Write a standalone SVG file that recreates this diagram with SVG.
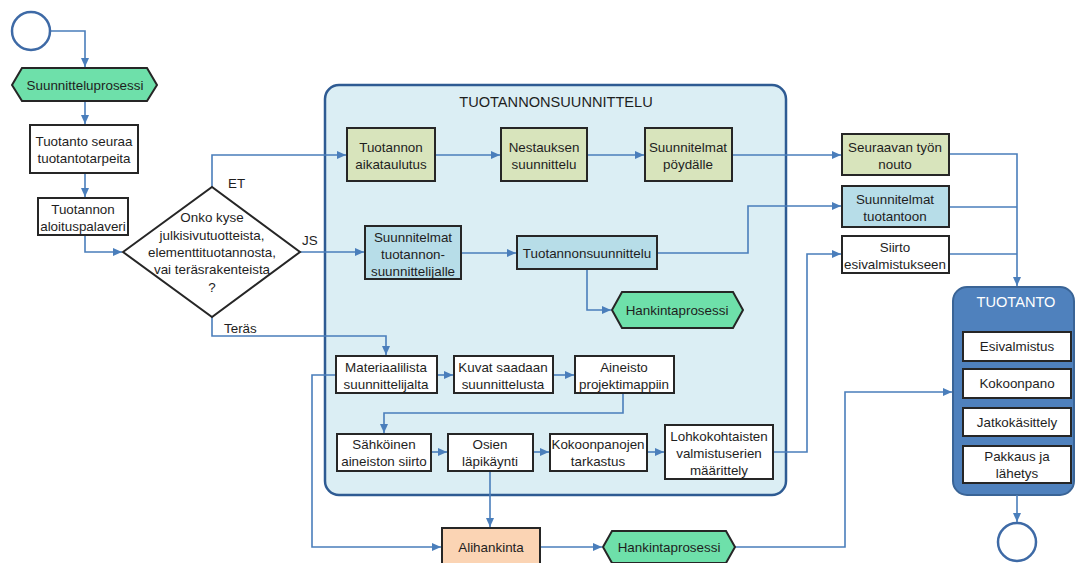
<svg xmlns="http://www.w3.org/2000/svg" width="1076" height="563" viewBox="0 0 1076 563">
<style>
text{font-family:"Liberation Sans",Arial,sans-serif;font-size:13.4px;fill:#1e1e1e;text-anchor:middle;dominant-baseline:central}
.box{stroke:#262626;stroke-width:2}
.w{fill:#ffffff}
.ol{fill:#d8e4bc}
.lb{fill:#b7dde8}
.gr{fill:#6ee0aa}
.pe{fill:#fbd4b4}
.c{fill:none;stroke:#4a7ebb;stroke-width:1.6}
.lbl{text-anchor:start}
.title{font-size:14.6px}
.circ{fill:#fff;stroke:#3e6aa6;stroke-width:2.5}
</style>
<defs>
<marker id="ah" markerUnits="userSpaceOnUse" markerWidth="10" markerHeight="10" refX="9" refY="5" orient="auto">
<path d="M0,1 L9,5 L0,9 Z" fill="#4a7ebb"/>
</marker>
</defs>
<rect width="1076" height="563" fill="#ffffff"/>

<g id="container-tuotannonsuunnittelu">
<rect x="325" y="85" width="461" height="410" rx="14" fill="#dbeef4" stroke="#2e5b93" stroke-width="2.5"/>
<text x="556" y="102" class="title">TUOTANNONSUUNNITTELU</text>
</g>

<g id="container-tuotanto">
<rect x="953" y="287" width="121" height="208" rx="14" fill="#4f81bd" stroke="#3a6496" stroke-width="2"/>
<text x="1016" y="302" class="title" style="fill:#ffffff">TUOTANTO</text>
</g>

<g id="connectors">
<path class="c" d="M50,31 H85 V67" marker-end="url(#ah)"/>
<path class="c" d="M85,101 V124" marker-end="url(#ah)"/>
<path class="c" d="M85,173 V197" marker-end="url(#ah)"/>
<path class="c" d="M85,235 V252 H122" marker-end="url(#ah)"/>
<path class="c" d="M212,187 V155 H346" marker-end="url(#ah)"/>
<path class="c" d="M300,252 H364" marker-end="url(#ah)"/>
<path class="c" d="M212,317 V336 H386 V355" marker-end="url(#ah)"/>
<path class="c" d="M435,155 H500" marker-end="url(#ah)"/>
<path class="c" d="M587,155 H644" marker-end="url(#ah)"/>
<path class="c" d="M732,155 H841" marker-end="url(#ah)"/>
<path class="c" d="M461,253 H516" marker-end="url(#ah)"/>
<path class="c" d="M657,253 H748 V206 H841" marker-end="url(#ah)"/>
<path class="c" d="M587,269 V310 H611" marker-end="url(#ah)"/>
<path class="c" d="M949,154 H1017 V286" marker-end="url(#ah)"/>
<path class="c" d="M949,207 H1017"/>
<path class="c" d="M949,254 H1017"/>
<path class="c" d="M773,452 H807 V254 H841" marker-end="url(#ah)"/>
<path class="c" d="M437,375 H453" marker-end="url(#ah)"/>
<path class="c" d="M553,375 H574" marker-end="url(#ah)"/>
<path class="c" d="M623,393 V413 H384 V433" marker-end="url(#ah)"/>
<path class="c" d="M431,452 H447" marker-end="url(#ah)"/>
<path class="c" d="M533,452 H549" marker-end="url(#ah)"/>
<path class="c" d="M647,452 H664" marker-end="url(#ah)"/>
<path class="c" d="M490,471 V527" marker-end="url(#ah)"/>
<path class="c" d="M336,375 H312 V547 H441" marker-end="url(#ah)"/>
<path class="c" d="M540,547 H602" marker-end="url(#ah)"/>
<path class="c" d="M735,547 H845 V392 H952" marker-end="url(#ah)"/>
<path class="c" d="M1017,495 V522" marker-end="url(#ah)"/>
<text x="228" y="183" class="lbl">ET</text>
<text x="302" y="240" class="lbl">JS</text>
<text x="224" y="328" class="lbl">Teräs</text>
</g>

<g id="start"><circle cx="31" cy="31" r="19" class="circ"/></g>

<g id="suunnitteluprosessi">
<polygon class="box gr" points="12,85 22,68 147,68 157,85 147,101 22,101"/>
<text x="85" y="85">Suunnitteluprosessi</text>
</g>

<g id="tuotanto-seuraa">
<rect class="box w" x="30" y="125" width="108" height="48"/>
<text x="84" y="141">Tuotanto seuraa</text>
<text x="84" y="158">tuotantotarpeita</text>
</g>

<g id="aloituspalaveri">
<rect class="box w" x="38" y="198" width="90" height="37"/>
<text x="83" y="209">Tuotannon</text>
<text x="83" y="226">aloituspalaveri</text>
</g>

<g id="paatos">
<polygon points="123,252 212,187 300,252 212,317" fill="#fff" stroke="#262626" stroke-width="2"/>
<text x="212" y="217">Onko kyse</text>
<text x="212" y="235">julkisivutuotteista,</text>
<text x="212" y="252">elementtituotannosta,</text>
<text x="212" y="269">vai teräsrakenteista</text>
<text x="212" y="287">?</text>
</g>

<g id="aikataulutus">
<rect class="box ol" x="347" y="128" width="88" height="53"/>
<text x="391" y="147">Tuotannon</text>
<text x="391" y="164">aikataulutus</text>
</g>
<g id="nestaus">
<rect class="box ol" x="501" y="128" width="86" height="53"/>
<text x="544" y="147">Nestauksen</text>
<text x="544" y="164">suunnittelu</text>
</g>
<g id="poydalle">
<rect class="box ol" x="645" y="128" width="87" height="53"/>
<text x="688" y="147">Suunnitelmat</text>
<text x="688" y="164">pöydälle</text>
</g>

<g id="suunnittelijalle">
<rect class="box lb" x="365" y="226" width="96" height="53"/>
<text x="413" y="237">Suunnitelmat</text>
<text x="413" y="254">tuotannon-</text>
<text x="413" y="271">suunnittelijalle</text>
</g>
<g id="tuotannonsuunnittelu">
<rect class="box lb" x="517" y="236" width="140" height="33"/>
<text x="587" y="253">Tuotannonsuunnittelu</text>
</g>
<g id="hankinta1">
<polygon class="box gr" points="612,310 622,292 733,292 743,310 733,328 622,328"/>
<text x="677" y="310">Hankintaprosessi</text>
</g>

<g id="seuraavan">
<rect class="box ol" x="842" y="134" width="107" height="41"/>
<text x="895" y="147">Seuraavan työn</text>
<text x="895" y="164">nouto</text>
</g>
<g id="tuotantoon">
<rect class="box lb" x="842" y="186" width="107" height="41"/>
<text x="895" y="199">Suunnitelmat</text>
<text x="895" y="216">tuotantoon</text>
</g>
<g id="siirto">
<rect class="box w" x="842" y="236" width="107" height="37"/>
<text x="895" y="247">Siirto</text>
<text x="895" y="264">esivalmistukseen</text>
</g>

<g id="esivalmistus">
<rect class="box w" x="963" y="332" width="108" height="29"/>
<text x="1017" y="346.5">Esivalmistus</text>
</g>
<g id="kokoonpano">
<rect class="box w" x="963" y="369" width="108" height="29"/>
<text x="1017" y="383.5">Kokoonpano</text>
</g>
<g id="jatkokasittely">
<rect class="box w" x="963" y="408" width="108" height="28"/>
<text x="1017" y="422">Jatkokäsittely</text>
</g>
<g id="pakkaus">
<rect class="box w" x="963" y="446" width="108" height="37"/>
<text x="1017" y="456">Pakkaus ja</text>
<text x="1017" y="473">lähetys</text>
</g>
<g id="end"><circle cx="1017" cy="542" r="19" class="circ"/></g>

<g id="materiaalilista">
<rect class="box w" x="336" y="356" width="101" height="37"/>
<text x="386" y="367">Materiaalilista</text>
<text x="386" y="384">suunnittelijalta</text>
</g>
<g id="kuvat">
<rect class="box w" x="454" y="356" width="99" height="37"/>
<text x="503" y="367">Kuvat saadaan</text>
<text x="503" y="384">suunnittelusta</text>
</g>
<g id="aineisto">
<rect class="box w" x="575" y="356" width="99" height="37"/>
<text x="624" y="367">Aineisto</text>
<text x="624" y="384">projektimappiin</text>
</g>
<g id="sahkoinen">
<rect class="box w" x="337" y="434" width="94" height="37"/>
<text x="384" y="444">Sähköinen</text>
<text x="384" y="461">aineiston siirto</text>
</g>
<g id="osien">
<rect class="box w" x="448" y="434" width="85" height="37"/>
<text x="490" y="444">Osien</text>
<text x="490" y="461">läpikäynti</text>
</g>
<g id="kokoonpanojen">
<rect class="box w" x="550" y="434" width="97" height="37"/>
<text x="598" y="444">Kokoonpanojen</text>
<text x="598" y="461">tarkastus</text>
</g>
<g id="lohkokohtaisten">
<rect class="box w" x="665" y="425" width="108" height="54"/>
<text x="719" y="436">Lohkokohtaisten</text>
<text x="719" y="453">valmistuserien</text>
<text x="719" y="470">määrittely</text>
</g>
<g id="alihankinta">
<rect class="box pe" x="442" y="528" width="98" height="40"/>
<text x="491" y="547">Alihankinta</text>
</g>
<g id="hankinta2">
<polygon class="box gr" points="603,547 612,531 726,531 735,547 726,563 612,563"/>
<text x="669" y="547">Hankintaprosessi</text>
</g>
</svg>
